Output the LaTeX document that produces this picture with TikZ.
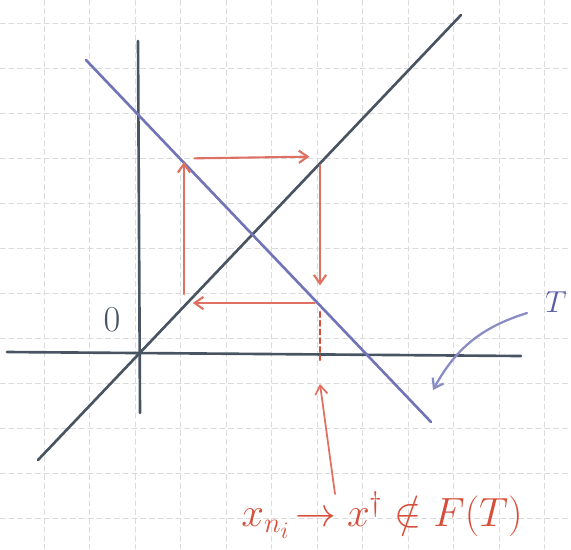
\documentclass[tikz,border=0pt]{standalone}
\usepackage{amsmath,amssymb}
\usetikzlibrary{arrows.meta}

\definecolor{axisgray}{RGB}{72,84,98}
\definecolor{mapblue}{RGB}{88,92,170}
\definecolor{penred}{RGB}{214,78,58}

\begin{document}
\begin{tikzpicture}[x=0.02cm,y=-0.02cm,line cap=round,
    pen/.style={line width=1.5pt},
    web/.style={penred!80,line width=1.2pt,-{Straight Barb[length=5pt,width=7pt]}}]
  \useasboundingbox (0,0) rectangle (571,549);
  % dotted grid paper
  \foreach \gx in {44,89.5,...,560} \draw[gray!28,densely dashed] (\gx,0) -- (\gx,549);
  \foreach \gy in {23,68,...,549} \draw[gray!28,densely dashed] (0,\gy) -- (571,\gy);
  % axes, identity line and T
  \draw[pen,axisgray] (7,352) -- (521,356);
  \draw[pen,axisgray] (138,41) -- (140,413);
  \draw[pen,axisgray] (38,460) -- (461,15);
  \draw[pen,mapblue!85] (86,60) -- (431,422);
  \node[axisgray] (orig) at (112,320) {\huge$0$};
  % cobweb corners
  \coordinate (a) at (184,162);
  \coordinate (b) at (320,160);
  \coordinate (c) at (320,303);
  \coordinate (d) at (184,303);
  \draw[web,shorten <=6pt,shorten >=6pt] ([yshift=2pt]a) -- ([yshift=2pt]b);
  \draw[web,shorten <=3pt,shorten >=10pt] (b) -- (c);
  \draw[web,shorten <=3pt,shorten >=5pt] (c) -- (d);
  \draw[web,shorten <=5pt,shorten >=0pt] (d) -- (a);
  % limit point
  \coordinate (p) at (320,360);
  \draw[penred,line width=1.2pt,densely dashed,shorten <=5pt] (c) -- (p);
  \node[penred,scale=1.12] (lab) at (382,515) {\huge$x_{n_i}\!\to x^{\dagger}\notin F(T)$};
  \coordinate (q) at (335,494);
  \coordinate (tip) at (320,384);
  \draw[web,line width=1pt] (q) -- (tip);
  % label of the map
  \node[mapblue] (tlab) at (556,302) {\LARGE$T$};
  \coordinate (ts) at (527,313);
  \coordinate (te) at (433,390);
  \draw[mapblue!70,line width=1.3pt,-{Straight Barb[length=5pt,width=7pt]}] (ts) to[bend right=22] (te);
\end{tikzpicture}
\end{document}
